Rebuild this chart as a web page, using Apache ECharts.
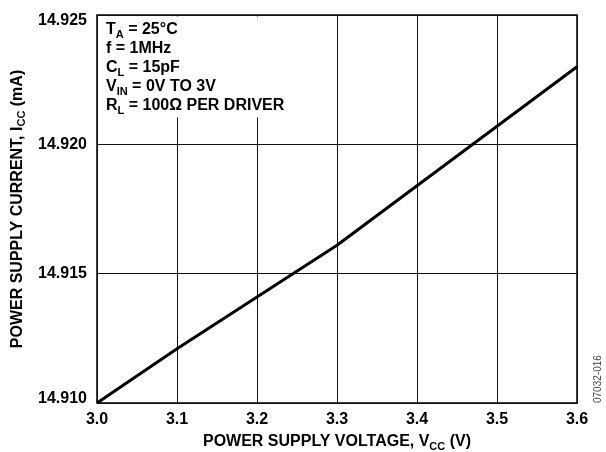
<!DOCTYPE html>
<html>
<head>
<meta charset="utf-8">
<script src="https://cdn.jsdelivr.net/npm/echarts@6/dist/echarts.min.js"></script>
<style>
  html, body { margin: 0; padding: 0; background: #fff; }
  #chart { width: 606px; height: 452px; }
</style>
</head>
<body>
<div id="chart"></div>
<script>
// Supply voltage (V) and supply current (mA)
const vcc = [3.0, 3.1, 3.2, 3.3, 3.4, 3.5, 3.6];
const icc = [14.9100, 14.9121, 14.9141, 14.9161, 14.9184, 14.9207, 14.9230];

const xTicks = { min: 3.0, max: 3.6, step: 0.1 };
const yTicks = { min: 14.910, max: 14.925, step: 0.005 };

const FONT = '"Liberation Sans", Arial, Helvetica, sans-serif';
const txt = { fontFamily: FONT, fontWeight: 'bold', fontSize: 16, color: '#000' };
const sub = { fontFamily: FONT, fontWeight: 'bold', fontSize: 11, color: '#000' };

const chart = echarts.init(document.getElementById('chart'), null, { renderer: 'canvas' });

chart.setOption({
  animation: false,
  backgroundColor: '#fff',
  grid: {
    left: 97, top: 15, right: 29, bottom: 49,
    outerBoundsMode: 'none',
    containLabel: false,
    show: true, borderColor: '#000', borderWidth: 1.5, backgroundColor: 'transparent'
  },
  xAxis: {
    type: 'value',
    min: xTicks.min, max: xTicks.max, interval: xTicks.step,
    axisLine: { show: false },
    axisTick: { show: false },
    splitLine: { show: true, lineStyle: { color: '#111', width: 1 } },
    axisLabel: {
      margin: 9,
      fontFamily: FONT, fontWeight: 'bold', fontSize: 16, color: '#000',
      formatter: v => v.toFixed(1)
    },
    name: '{b|POWER SUPPLY VOLTAGE, V}{s|CC}{b| (V)}',
    nameLocation: 'middle',
    nameGap: 29,
    nameTextStyle: {
      rich: {
        b: Object.assign({ lineHeight: 19 }, txt),
        s: Object.assign({ padding: [9, 0, 0, 0] }, sub)
      }
    }
  },
  yAxis: {
    type: 'value',
    min: yTicks.min, max: yTicks.max, interval: yTicks.step,
    axisLine: { show: false },
    axisTick: { show: false },
    splitLine: { show: true, lineStyle: { color: '#111', width: 1 } },
    axisLabel: {
      margin: 10,
      formatter: v => {
        const s = v.toFixed(3);
        if (Math.abs(v - yTicks.max) < 1e-9) return '{top|' + s + '}';
        if (Math.abs(v - yTicks.min) < 1e-9) return '{bot|' + s + '}';
        return '{mid|' + s + '}';
      },
      rich: {
        top: Object.assign({ padding: [11, 0, 0, 0] }, txt),
        mid: Object.assign({}, txt),
        bot: Object.assign({ padding: [0, 0, 8, 0] }, txt)
      }
    },
    name: '{b|POWER SUPPLY CURRENT, I}{s|CC}{b| (mA)}',
    nameLocation: 'middle',
    nameGap: 68,
    nameRotate: 90,
    nameTextStyle: {
      rich: {
        b: Object.assign({ lineHeight: 19 }, txt),
        s: Object.assign({ padding: [9, 0, 0, 0] }, sub)
      }
    }
  },
  series: [{
    type: 'line',
    data: vcc.map((v, i) => [v, icc[i]]),
    showSymbol: false,
    smooth: false,
    lineStyle: { color: '#000', width: 3 },
    z: 5
  }],
  graphic: [
    {
      type: 'rect',
      z: 10,
      shape: { x: 98.5, y: 16.5, width: 200, height: 101 },
      style: { fill: '#fff' }
    },
    {
      type: 'text',
      z: 11,
      left: 106, top: 20,
      style: {
        text: [
          '{b|T}{s|A}{b| = 25°C}',
          '{b|f = 1MHz}',
          '{b|C}{s|L}{b| = 15pF}',
          '{b|V}{s|IN}{b| = 0V TO 3V}',
          '{b|R}{s|L}{b| = 100Ω PER DRIVER}'
        ].join('\n'),
        rich: {
          b: Object.assign({ lineHeight: 19 }, txt),
          s: Object.assign({ padding: [9, 0, 0, 0], lineHeight: 10 }, sub)
        }
      }
    },
    {
      type: 'text',
      z: 11,
      x: 598, y: 403,
      rotation: Math.PI / 2,
      style: {
        text: '07032-016',
        fontFamily: FONT, fontSize: 10, fill: '#444',
        align: 'left', verticalAlign: 'middle'
      }
    }
  ]
});
</script>
</body>
</html>
